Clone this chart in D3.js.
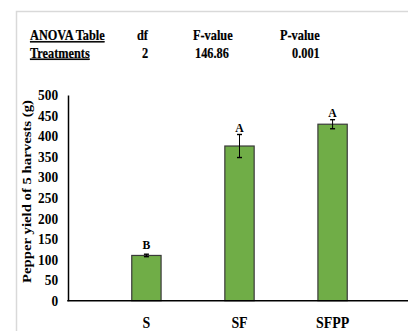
<!DOCTYPE html>
<html><head><meta charset="utf-8">
<script src="https://cdn.jsdelivr.net/npm/d3@7"></script>
<style>
html,body{margin:0;padding:0;background:#fff;}
svg{display:block;}
</style></head>
<body>
<script>
const categories = ["S", "SF", "SFPP"];
const values = [110, 376, 429];
const errors = [3, 28, 11];
const letters = ["B", "A", "A"];
const yTicks = [0, 50, 100, 150, 200, 250, 300, 350, 400, 450, 500];
const anovaHeader = ["ANOVA Table", "df", "F-value", "P-value"];
const anovaRow = ["Treatments", "2", "146.86", "0.001"];
const yTitle = "Pepper yield of 5 harvests (g)";

const FONT = "Liberation Serif";
const W = 408, H = 331;
const svg = d3.select("body").append("svg").attr("width", W).attr("height", H)
  .attr("font-family", FONT).attr("font-weight", "bold");

// frame
svg.append("path").attr("d", `M16.5,${H} V11.5 H${W}`)
  .attr("fill", "none").attr("stroke", "#d9d9d9").attr("stroke-width", 1.5);

// ANOVA table (horizontally condensed serif)
const SX = 0.88;
const hX = [30, 137, 193, 280];
const rX = [30, 142, 195, 292];
function condensed(sel, xs, yb) {
  sel.attr("transform", (d, i) => `translate(${xs[i]},${yb}) scale(${SX},1)`)
    .attr("font-size", 14).attr("font-family", FONT).attr("font-weight", "bold")
    .attr("fill", "#000").attr("stroke", "#000").attr("stroke-width", 0.2)
    .attr("text-decoration", (d, i) => i === 0 ? "underline" : null)
    .text(d => d);
}
condensed(svg.selectAll("text.h").data(anovaHeader).join("text").attr("class", "h"), hX, 40);
condensed(svg.selectAll("text.r").data(anovaRow).join("text").attr("class", "r"), rX, 57.5);

// scales
const x = d3.scaleBand().domain(categories).range([68, 411]).padding(0.685);
const y = d3.scaleLinear().domain([0, 500]).range([300.7, 95]);

// y axis
const yAxis = d3.axisLeft(y).tickValues(yTicks).tickSize(0).tickPadding(10);
const gy = svg.append("g").attr("transform", "translate(68,0)").call(yAxis)
  .attr("font-family", FONT).attr("font-weight", "bold");
gy.select(".domain").attr("stroke", "#000").attr("stroke-width", 1.5);
gy.selectAll("text").attr("font-size", 14.5).attr("font-family", FONT)
  .attr("font-weight", "bold").attr("fill", "#000")
  .attr("transform", "scale(0.92,1)").attr("x", -10.8);

// bars
svg.selectAll("rect.bar").data(values).join("rect").attr("class", "bar")
  .attr("x", (d, i) => x(categories[i])).attr("width", x.bandwidth())
  .attr("y", d => y(d)).attr("height", d => y(0) - y(d))
  .attr("fill", "#70ad47").attr("stroke", "#3a3a3a").attr("stroke-width", 1.2);

// x axis line
svg.append("line").attr("x1", 67.25).attr("x2", W).attr("y1", y(0)).attr("y2", y(0))
  .attr("stroke", "#000").attr("stroke-width", 1.5);

// error bars
const cx = i => x(categories[i]) + x.bandwidth() / 2;
const eb = svg.selectAll("g.err").data(values).join("g").attr("class", "err");
eb.append("line")
  .attr("x1", (d, i) => cx(i)).attr("x2", (d, i) => cx(i))
  .attr("y1", (d, i) => y(d + errors[i])).attr("y2", (d, i) => y(d - errors[i]))
  .attr("stroke", "#000").attr("stroke-width", 1);
[1, -1].forEach(s => {
  eb.append("line")
    .attr("x1", (d, i) => cx(i) - 2.5).attr("x2", (d, i) => cx(i) + 2.5)
    .attr("y1", (d, i) => y(d + s * errors[i])).attr("y2", (d, i) => y(d + s * errors[i]))
    .attr("stroke", "#000").attr("stroke-width", 1.4);
});

// letters
svg.selectAll("text.let").data(letters).join("text").attr("class", "let")
  .attr("transform", (d, i) => `translate(${cx(i)},${y(values[i] + errors[i]) - (i === 0 ? 5 : 2.5)}) scale(0.9,1)`)
  .attr("font-family", FONT).attr("font-weight", "bold").attr("fill", "#000")
  .attr("text-anchor", "middle").attr("font-size", 13).text(d => d);

// x labels
svg.selectAll("text.xl").data(categories).join("text").attr("class", "xl")
  .attr("transform", (d, i) => `translate(${cx(i)},328) scale(0.87,1)`)
  .attr("font-family", FONT).attr("font-weight", "bold").attr("fill", "#000")
  .attr("text-anchor", "middle").attr("font-size", 16).text(d => d);

// y title
svg.append("text").attr("transform", `translate(31,${(100 + 283) / 2}) rotate(-90)`)
  .attr("font-family", FONT).attr("font-weight", "bold").attr("fill", "#000")
  .attr("text-anchor", "middle").attr("font-size", 12.5)
  .attr("textLength", 183).attr("lengthAdjust", "spacingAndGlyphs").text(yTitle);
</script>
</body></html>
